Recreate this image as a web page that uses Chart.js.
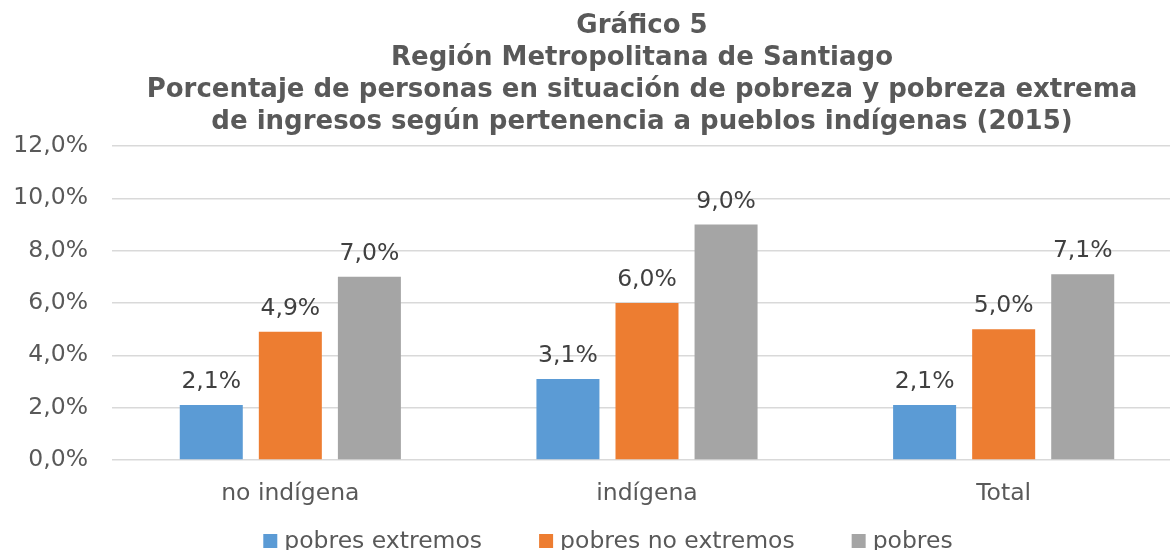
<!DOCTYPE html>
<html>
<head>
<meta charset="utf-8">
<title>Gráfico 5</title>
<script src="https://cdn.jsdelivr.net/npm/chart.js@4.4.1/dist/chart.umd.min.js"></script>
<style>
  html, body { margin: 0; padding: 0; background: #fff; overflow: hidden; }
  #wrap { position: relative; width: 1182px; height: 550px; }
</style>
</head>
<body>
<div id="wrap"><canvas id="chart"></canvas></div>
<script>
// data
const categories = ['no indígena', 'indígena', 'Total'];
const seriesNames = ['pobres extremos', 'pobres no extremos', 'pobres'];
const pobresExtremos = [2.1, 3.1, 2.1];
const pobresNoExtremos = [4.9, 6.0, 5.0];
const pobres = [7.0, 9.0, 7.1];
const yTicks = [0, 2, 4, 6, 8, 10, 12];
const titleLines = [
  'Gráfico 5',
  'Región Metropolitana de Santiago',
  'Porcentaje de personas en situación de pobreza y pobreza extrema',
  'de ingresos según pertenencia a pueblos indígenas (2015)'
];

const colors = {
  blue: '#5b9bd5',
  orange: '#ed7d31',
  grey: '#a5a5a5',
  text: '#595959',
  label: '#404040',
  grid: '#d9d9d9'
};

const FONT = '"DejaVu Sans", Verdana, sans-serif';
const TEXT_SIZE = 23.5;

function fmtPct(v) {
  return v.toFixed(1).replace('.', ',') + '%';
}

Chart.defaults.font.family = FONT;
Chart.defaults.color = colors.text;

// value labels above each bar
const valueLabels = {
  id: 'valueLabels',
  afterDatasetsDraw(chart) {
    const ctx = chart.ctx;
    ctx.save();
    ctx.font = TEXT_SIZE + 'px ' + FONT;
    ctx.fillStyle = colors.label;
    ctx.textAlign = 'center';
    ctx.textBaseline = 'alphabetic';
    chart.data.datasets.forEach((ds, i) => {
      chart.getDatasetMeta(i).data.forEach((bar, j) => {
        ctx.fillText(fmtPct(ds.data[j]), bar.x, bar.y - 17);
      });
    });
    ctx.restore();
  }
};

// Excel style legend along the bottom edge
const bottomLegend = {
  id: 'bottomLegend',
  afterDraw(chart) {
    const ctx = chart.ctx;
    const box = 14, textGap = 7, itemGap = 57, centerX = 608, baseY = 548;
    ctx.save();
    ctx.font = TEXT_SIZE + 'px ' + FONT;
    ctx.textBaseline = 'alphabetic';
    const widths = chart.data.datasets.map(ds => box + textGap + ctx.measureText(ds.label).width);
    const total = widths.reduce((a, b) => a + b, 0) + itemGap * (widths.length - 1);
    let x = centerX - total / 2;
    chart.data.datasets.forEach((ds, i) => {
      ctx.fillStyle = ds.backgroundColor;
      ctx.fillRect(x, baseY - box, box, box);
      ctx.fillStyle = colors.text;
      ctx.fillText(ds.label, x + box + textGap, baseY);
      x += widths[i] + itemGap;
    });
    ctx.restore();
  }
};

// title is centred on the original (wider) chart, so nudge it right
const titleShift = {
  id: 'titleShift',
  afterLayout(chart) {
    chart.titleBlock.left += 45;
    chart.titleBlock.right += 45;
  }
};

const datasetValues = [pobresExtremos, pobresNoExtremos, pobres];
const datasetColors = [colors.blue, colors.orange, colors.grey];

new Chart(document.getElementById('chart'), {
  type: 'bar',
  data: {
    labels: categories,
    datasets: seriesNames.map((name, i) => ({
      label: name,
      data: datasetValues[i],
      backgroundColor: datasetColors[i],
      categoryPercentage: 0.665,
      barPercentage: 0.797
    }))
  },
  options: {
    responsive: true,
    maintainAspectRatio: false,
    animation: false,
    layout: { padding: { left: 12, right: 0, top: 0, bottom: 44 } },
    plugins: {
      legend: { display: false },
      tooltip: { enabled: false },
      title: {
        display: true,
        text: titleLines,
        color: colors.text,
        font: { size: 26, weight: 'bold', lineHeight: 32 / 26 },
        padding: { top: 10, bottom: 8 }
      }
    },
    scales: {
      x: {
        grid: { display: false, drawTicks: false },
        border: { display: false },
        ticks: { color: colors.text, font: { size: TEXT_SIZE }, padding: 20 },
        afterFit(scale) { scale.height = 46; }
      },
      y: {
        min: 0,
        max: 12,
        grid: { color: colors.grid, lineWidth: 1.5, drawTicks: false },
        border: { display: false },
        ticks: {
          color: colors.text,
          font: { size: TEXT_SIZE },
          padding: 24,
          callback: v => fmtPct(v)
        },
        afterBuildTicks(scale) { scale.ticks = yTicks.map(v => ({ value: v })); },
        afterFit(scale) { scale.width = 100; }
      }
    }
  },
  plugins: [valueLabels, bottomLegend, titleShift]
});
</script>
</body>
</html>
